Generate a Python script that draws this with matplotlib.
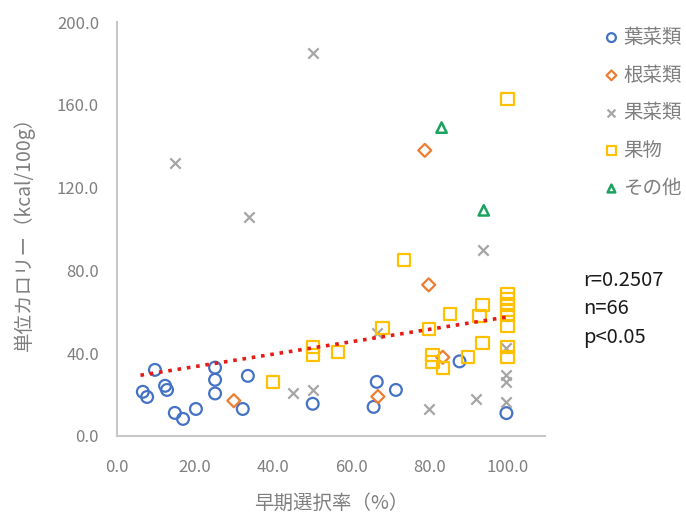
import matplotlib
matplotlib.use('Agg')
import matplotlib.pyplot as plt
import numpy as np

plt.rcParams['font.family'] = ['Noto Sans CJK JP', 'DejaVu Sans']

# 葉菜類
leaf_x = [6.6, 7.7, 9.7, 12.3, 12.8, 14.8, 16.9, 20.2, 25.1, 25.1, 25.1, 33.5, 32.2,
          50.1, 66.5, 65.7, 71.4, 87.7, 99.7]
leaf_y = [21.3, 18.8, 31.9, 24.2, 22.2, 11.1, 8.2, 13.0, 33.0, 27.1, 20.5, 29.0, 13.0,
          15.5, 26.1, 14.0, 22.2, 36.0, 11.0]
# 根菜類
root_x = [78.8, 79.8, 29.9, 66.8, 83.4]
root_y = [138.0, 73.0, 17.0, 19.0, 38.0]
# 果菜類
fveg_x = [50.1, 14.8, 33.8, 93.6, 66.5, 45.0, 50.1, 80.0, 91.8, 99.7, 99.7, 99.7, 99.7]
fveg_y = [185.0, 132.0, 106.0, 90.0, 49.8, 20.8, 22.2, 13.0, 18.0, 42.5, 29.5, 26.0, 16.4]
# 果物
fruit_x = [100.0, 73.4, 85.2, 93.6, 92.8, 79.8, 100.0, 100.0, 100.0, 100.0, 100.0, 100.0,
           100.0, 100.0, 68.0, 50.1, 50.1, 56.5, 40.0, 80.8, 80.8, 83.4, 89.8, 93.6]
fruit_y = [163.0, 85.0, 59.0, 63.3, 58.0, 51.7, 68.5, 66.0, 63.5, 61.0, 58.5, 53.0,
           43.0, 38.0, 52.0, 43.0, 39.0, 40.6, 26.0, 39.0, 35.7, 32.8, 38.0, 45.0]
# その他
other_x = [83.1, 93.9]
other_y = [149.0, 109.0]

trend_x = [6.0, 100.0]
trend_slope = 0.30
trend_intercept = 27.5

stats_lines = ['r=0.2507', 'n=66', 'p<0.05']

fig = plt.figure(figsize=(6.86, 5.14), dpi=100)
ax = fig.add_axes([0.1706, 0.152, 0.6234, 0.805])

gray_txt = '#7f7f7f'
ax.scatter(leaf_x, leaf_y, marker='o', facecolors='none', edgecolors='#4472C4', label='葉菜類', s=72, linewidths=1.6)
ax.scatter(root_x, root_y, marker='D', facecolors='none', edgecolors='#ED7D31', label='根菜類', s=44, linewidths=1.6)
ax.scatter(fveg_x, fveg_y, marker='x', color='#A5A5A5', label='果菜類', s=55, linewidths=1.6)
ax.scatter(fruit_x, fruit_y, marker='s', facecolors='none', edgecolors='#FFC000', label='果物', s=78, linewidths=1.6)
ax.scatter(other_x, other_y, marker='^', facecolors='none', edgecolors='#1AA35E', label='その他', s=55, linewidths=1.8)

tx = np.array(trend_x)
ax.plot(tx, trend_slope * tx + trend_intercept, color='#E41B17', linestyle=(0, (1, 1.6)), linewidth=2.6)

ax.set_xlim(0, 109.5)
ax.set_ylim(0, 200)
ax.set_xticks(np.arange(0, 101, 20))
ax.set_yticks(np.arange(0, 201, 40))
ax.set_xticklabels([f'{v:.1f}' for v in np.arange(0, 101, 20)])
ax.set_yticklabels([f'{v:.1f}' for v in np.arange(0, 201, 40)])
ax.tick_params(length=0, labelsize=12, colors=gray_txt)
ax.tick_params(axis='x', pad=17)
ax.tick_params(axis='y', pad=13)
for s in ['top', 'right']:
    ax.spines[s].set_visible(False)
for s in ['left', 'bottom']:
    ax.spines[s].set_color('#c8c8c8')
    ax.spines[s].set_linewidth(1.5)

ax.set_xlabel('早期選択率（%）', fontsize=14, color=gray_txt, labelpad=12)
ax.set_ylabel('単位カロリー（kcal/100g）', fontsize=14, color=gray_txt, labelpad=16)

leg = fig.legend(loc='upper left', bbox_to_anchor=(0.880, 0.948), frameon=False, fontsize=14,
                 handlelength=0.8, handletextpad=0.2, labelspacing=0.86, borderaxespad=0.0,
                 borderpad=0.0, markerscale=0.75)
for t in leg.get_texts():
    t.set_color(gray_txt)

for i, line in enumerate(stats_lines):
    fig.text(0.85, 1 - (280 + 29 * i) / 514, line, fontsize=14.5, va='center', ha='left',
             color='#1a1a1a')

fig.savefig('out.png', dpi=100)
